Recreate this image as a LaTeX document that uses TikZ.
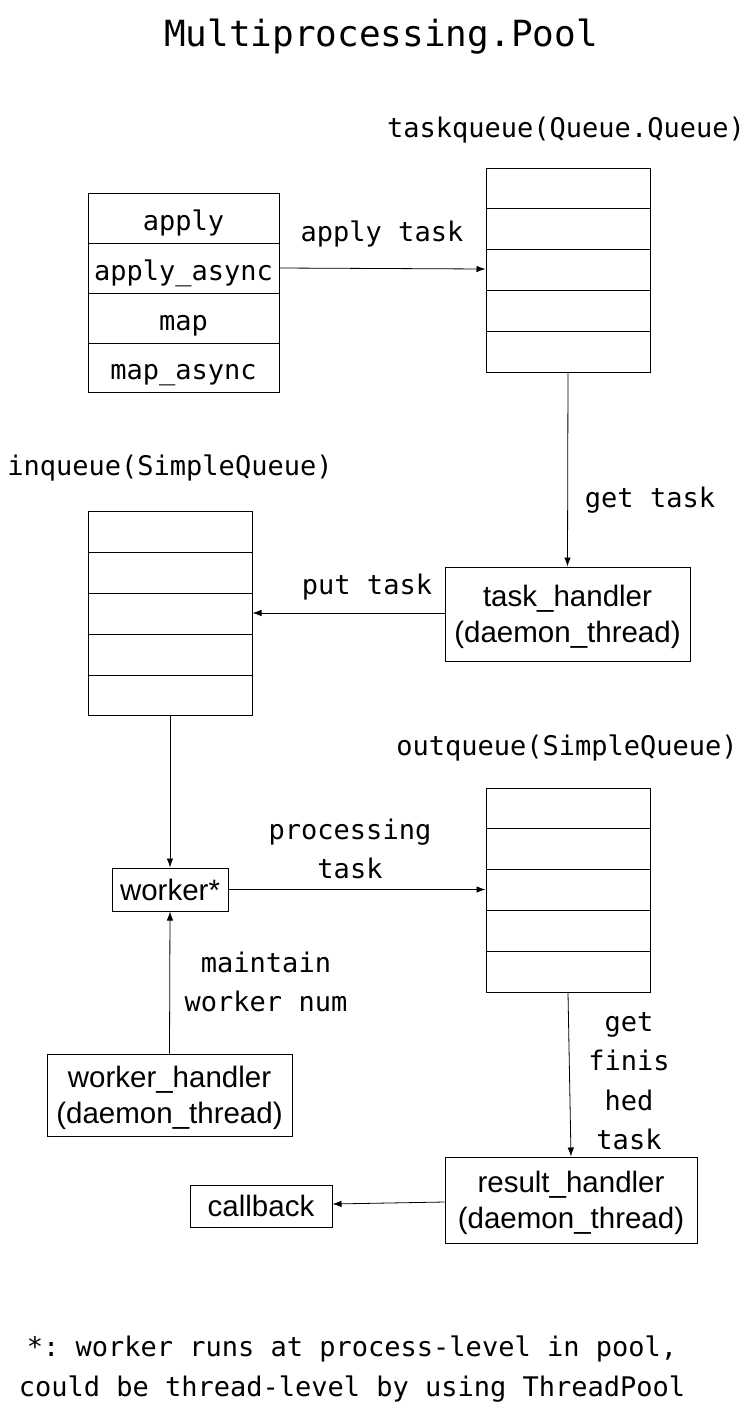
\documentclass[tikz,border=0pt]{standalone}
\usepackage{fontspec}
\setmonofont{DejaVu Sans Mono}
\setsansfont{Liberation Sans}
\usetikzlibrary{arrows.meta,calc}
\begin{document}
\begin{tikzpicture}[x=1pt,y=-1pt,
  mono/.style={font=\fontsize{27}{39.5}\selectfont\ttfamily, align=center, inner sep=0},
  rowtxt/.style={mono, text height=24pt, text depth=0pt},
  sanstxt/.style={font=\fontsize{29.5}{35.5}\selectfont\sffamily, align=center},
  twoline/.style={sanstxt, text depth=0pt},
  box/.style={draw, line width=1pt, inner sep=0},
  arr/.style={-{Latex[length=9pt,width=6.5pt]}, line width=0.8pt},
  qbox/.style={box, minimum width=164pt, minimum height=204pt}]
\useasboundingbox (0,0) rectangle (754,1409);
% title
\node[font=\fontsize{36}{40}\selectfont\ttfamily, inner sep=0] (title) at (381,37) {Multiprocessing.Pool};
% method box
\node[box, rowtxt, minimum width=191pt, minimum height=50pt] (m1) at (183.5,218) {apply};
\node[box, rowtxt, minimum width=191pt, minimum height=50pt] (m2) at (183.5,268) {apply\_async};
\node[box, rowtxt, minimum width=191pt, minimum height=50pt] (m3) at (183.5,318) {map};
\node[box, rowtxt, minimum width=191pt, minimum height=49pt] (m4) at (183.5,367.5) {map\_async};
% taskqueue
\node[mono] (tqlbl) at (566,130) {taskqueue(Queue.Queue)};
\node[qbox] (tq) at (568,270) {};
\foreach \i in {1,...,4}
  \draw[line width=1pt] ($(tq.north west)!\i/5!(tq.south west)$) -- ($(tq.north east)!\i/5!(tq.south east)$);
% task handler
\node[box, twoline, minimum width=245pt, minimum height=94pt] (th) at (567.5,614) {task\_handler\\(daemon\_thread)};
% inqueue
\node[mono] (iqlbl) at (170,468) {inqueue(SimpleQueue)};
\node[qbox] (iq) at (170,613.5) {};
\foreach \i in {1,...,4}
  \draw[line width=1pt] ($(iq.north west)!\i/5!(iq.south west)$) -- ($(iq.north east)!\i/5!(iq.south east)$);
% worker
\node[box, sanstxt, minimum width=116pt, minimum height=43pt] (wk) at (170,889.5) {worker*};
% outqueue
\node[mono] (oqlbl) at (567,748) {outqueue(SimpleQueue)};
\node[qbox] (oq) at (568,890) {};
\foreach \i in {1,...,4}
  \draw[line width=1pt] ($(oq.north west)!\i/5!(oq.south west)$) -- ($(oq.north east)!\i/5!(oq.south east)$);
% worker handler
\node[box, twoline, minimum width=245pt, minimum height=82pt] (wh) at (169.5,1095) {worker\_handler\\(daemon\_thread)};
% result handler
\node[box, twoline, minimum width=252pt, minimum height=86pt] (rh) at (571,1200) {result\_handler\\(daemon\_thread)};
% callback
\node[box, sanstxt, minimum width=142pt, minimum height=42pt] (cb) at (261,1206) {callback};
% connectors
\draw[arr] (m2.east) -- (tq.west |- 0,269);
\node[mono] (l1) at (382,234) {apply task};
\draw[arr] (tq.south) -- (th.north);
\node[mono] (l2) at (650,500) {get task};
\draw[arr] (th.west |- 0,613) -- (iq.east |- 0,613);
\node[mono] (l3) at (367,587) {put task};
\draw[arr] (iq.south) -- (wk.north);
\draw[arr] (wk.east) -- (oq.west |- wk.east);
\node[mono] (l4) at (350,849) {processing\\task};
\draw[arr] (wh.north) -- (wk.south);
\node[mono] (l5) at (266,982) {maintain\\worker num};
\draw[arr] (oq.south) -- (rh.north);
\node[mono] (l6) at (629,1081) {get\\finis\\hed\\task};
\draw[arr] (rh.west |- 0,1202) -- (cb.east |- 0,1204);
% footer
\node[mono] (foot) at (352,1369) {*: worker runs at process-level in pool,\\could be thread-level by using ThreadPool};
\end{tikzpicture}
\end{document}
